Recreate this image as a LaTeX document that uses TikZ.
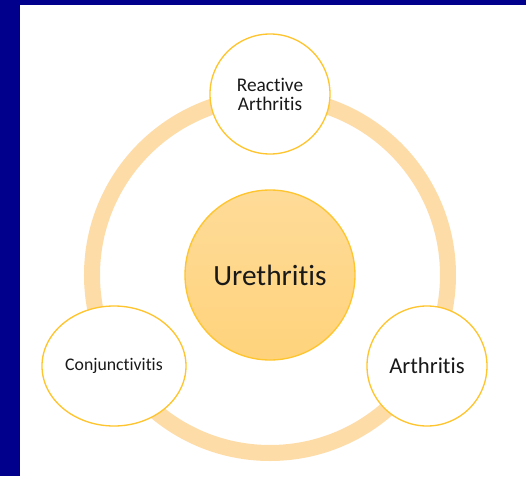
\documentclass[tikz,border=0pt]{standalone}
\usepackage{fontspec}
\setmainfont[Ligatures=NoCommon]{Carlito}
\usetikzlibrary{positioning, shapes.geometric}

\definecolor{slideblue}{RGB}{0,0,140}
\definecolor{ringpeach}{RGB}{254,220,168}
\definecolor{rimgold}{RGB}{255,197,46}
\definecolor{hubtop}{RGB}{254,219,152}
\definecolor{hubbottom}{RGB}{255,211,124}

\begin{document}
\begin{tikzpicture}[node distance=2.5cm,on grid]
\tikzstyle{hub}=[circle,draw=rimgold,line width=1pt,minimum size=127.5pt,inner sep=0pt,
  top color=hubtop,bottom color=hubbottom,text=black!90]
\tikzstyle{satellite}=[circle,draw=rimgold,line width=1pt,fill=white,minimum size=90pt,
  inner sep=0pt,align=center,text=black!90]
\tikzstyle{ring}=[draw=ringpeach,line width=12pt]

%--- slide background ---
\fill[slideblue] (-202.5pt,-150.75pt) rectangle (192pt,206.25pt);
\fill[white] (-187.5pt,-150.75pt) rectangle (192pt,202.5pt);
\useasboundingbox (-202.5pt,-150.75pt) rectangle (192pt,206.25pt);

%--- nodes ---
\node[hub, font=\fontsize{22}{26}\selectfont] (center) at (0,0) {Urethritis};
\draw[ring] (center.center) circle[radius=133.5pt];

\node[satellite, font=\fontsize{14.5}{14.25}\selectfont] (reactive)
  [above=135.75pt of center] {Reactive\\Arthritis};
\node[satellite, ellipse, minimum width=108pt, minimum height=90pt,
  font=\fontsize{13.3}{15}\selectfont] (conj)
  [below left=68.25pt and 117pt of center] {Conjunctivitis};
\node[satellite, font=\fontsize{17}{20}\selectfont] (arthritis)
  [below right=68.25pt and 117.75pt of center] {Arthritis};

\end{tikzpicture}
\end{document}
